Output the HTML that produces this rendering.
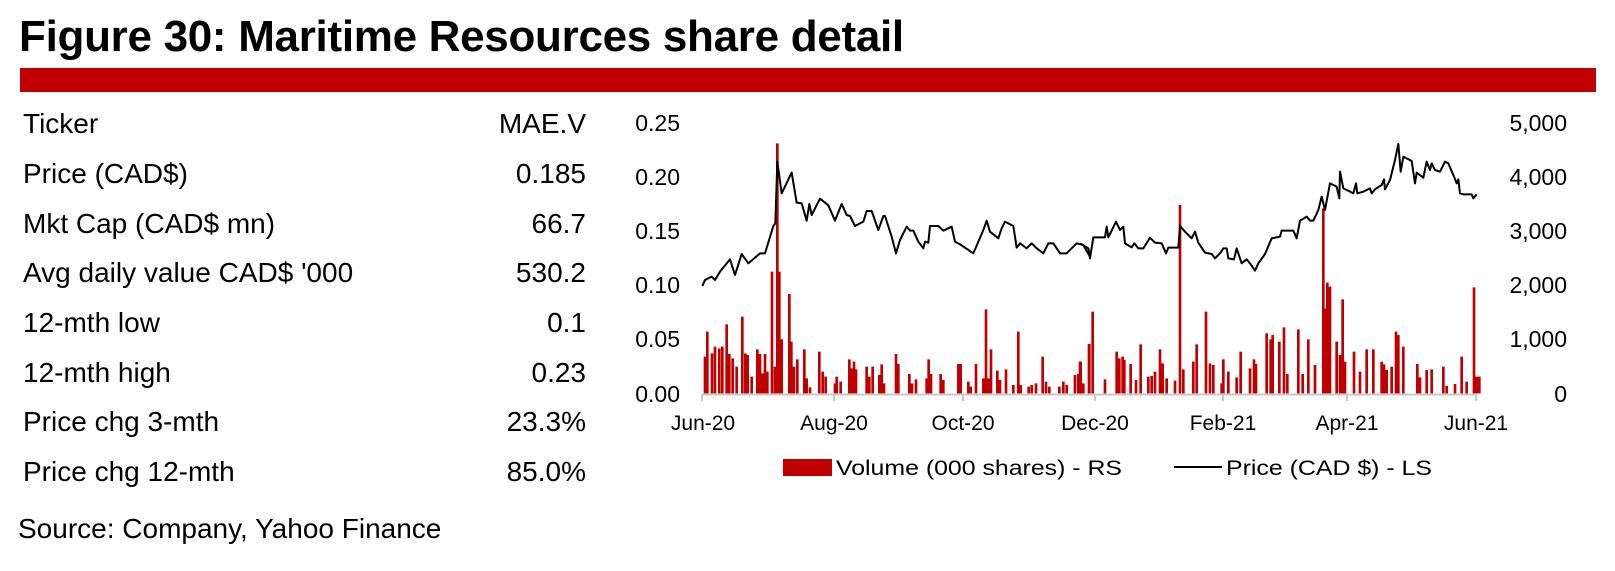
<!DOCTYPE html>
<html><head><meta charset="utf-8"><style>
body{margin:0;background:#fff;width:1615px;height:571px;overflow:hidden;font-family:"Liberation Sans",Arial,sans-serif;position:relative}
.t{position:absolute;left:19px;top:12px;font-size:44px;font-weight:bold;color:#000;letter-spacing:-0.3px}
.bar{position:absolute;left:20px;top:68px;width:1576px;height:24px;background:#c00000}
.row{position:absolute;left:23px;width:563px;font-size:28px;height:34px;line-height:34px}
.row span{position:absolute;right:0;top:0}
.src{position:absolute;left:18px;top:512px;font-size:28px;line-height:34px}
svg{position:absolute;left:0;top:0}
</style></head><body>
<div class="t">Figure 30: Maritime Resources share detail</div>
<div class="bar"></div>
<div class="row" style="top:107px">Ticker<span>MAE.V</span></div>
<div class="row" style="top:157px">Price (CAD$)<span>0.185</span></div>
<div class="row" style="top:207px">Mkt Cap (CAD$ mn)<span>66.7</span></div>
<div class="row" style="top:256px">Avg daily value CAD$ '000<span>530.2</span></div>
<div class="row" style="top:306px">12-mth low<span>0.1</span></div>
<div class="row" style="top:356px">12-mth high<span>0.23</span></div>
<div class="row" style="top:405px">Price chg 3-mth<span>23.3%</span></div>
<div class="row" style="top:455px">Price chg 12-mth<span>85.0%</span></div>
<div class="src">Source: Company, Yahoo Finance</div>
<svg width="1615" height="571" viewBox="0 0 1615 571" font-family="Liberation Sans, Arial, sans-serif">
<g font-size="23" fill="#000" text-anchor="end">
<text x="680" y="131">0.25</text><text x="680" y="185">0.20</text><text x="680" y="239">0.15</text><text x="680" y="293">0.10</text><text x="680" y="347">0.05</text><text x="680" y="402">0.00</text>
<text x="1567" y="131">5,000</text><text x="1567" y="185">4,000</text><text x="1567" y="239">3,000</text><text x="1567" y="293">2,000</text><text x="1567" y="347">1,000</text><text x="1567" y="402">0</text>
</g>
<g font-size="21" fill="#000" text-anchor="middle">
<text x="703" y="430">Jun-20</text><text x="834" y="430">Aug-20</text><text x="963" y="430">Oct-20</text><text x="1095" y="430">Dec-20</text><text x="1223" y="430">Feb-21</text><text x="1347" y="430">Apr-21</text><text x="1476" y="430">Jun-21</text>
</g>
<g transform="translate(590,100) scale(0.33333)" stroke="#c00000" stroke-width="8" fill="none">
<path d="M345 880V770M352 880V695M366 880V760M375 880V740M388 880V745M397 880V740M410 880V673M418 880V762M428 880V775M440 880V800M457 880V650M466 880V760M473 880V765M485 880V830M502 880V748M510 880V762M518 880V820M525 880V762M532 880V815M546 880V515M555 880V800M562 880V130M568 880V515M575 880V718M598 880V582M604 880V725M612 880V800M622 880V778M643 880V748M650 880V835M660 880V862M688 880V755M698 880V815M707 880V830M735 880V850M740 880V830M752 880V845M778 880V778M785 880V805M792 880V785M798 880V808M830 880V800M838 880V830M848 880V800M868 880V825M875 880V793M882 880V850M918 880V762M925 880V792M958 880V822M966 880V850M978 880V838M1010 880V835M1016 880V778M1023 880V822M1052 880V822M1060 880V840M1105 880V792M1112 880V792M1135 880V845M1142 880V860M1158 880V792M1180 880V835M1188 880V628M1195 880V835M1203 880V748M1222 880V812M1230 880V840M1248 880V808M1270 880V855M1285 880V695M1292 880V855M1316 880V860M1325 880V855M1338 880V850M1358 880V770M1368 880V845M1378 880V860M1408 880V860M1420 880V845M1430 880V855M1455 880V825M1465 880V822M1470 880V785M1480 880V850M1497 880V733"/>
</g>
<g transform="translate(1080,100) scale(0.33333)" stroke="#c00000" stroke-width="8" fill="none">
<path d="M2 880V785M28 880V732M38 880V635M75 880V838M110 880V755M118 880V775M128 880V770M133 880V780M152 880V792M168 880V840M182 880V733M205 880V830M215 880V828M225 880V815M240 880V748M248 880V790M260 880V835M285 880V842M300 880V315M310 880V808M340 880V785M350 880V733M378 880V635M390 880V790M400 880V795M425 880V850M430 880V778M445 880V815M470 880V832M482 880V755M510 880V805M522 880V778M528 880V792M560 880V700M572 880V718M578 880V705M598 880V725M612 880V682M622 880V822M655 880V688M668 880V822M685 880V718M705 880V795M730 880V325M735 880V625M742 880V548M750 880V560M770 880V725M780 880V765M788 880V598M795 880V785M822 880V755M840 880V815M860 880V748M880 880V748M905 880V785M912 880V793M920 880V810M935 880V800M948 880V695M955 880V705M970 880V740M1012 880V792M1020 880V832M1040 880V810M1055 880V808M1090 880V800M1100 880V858M1125 880V852M1145 880V770M1160 880V845M1182 880V562M1190 880V830M1198 880V830"/>
</g>
<line x1="702" y1="394.5" x2="1477" y2="394.5" stroke="#c8c8c8" stroke-width="2"/>
<g stroke="#c8c8c8" stroke-width="2"><line x1="702" y1="394" x2="702" y2="401"/><line x1="834" y1="394" x2="834" y2="401"/><line x1="963" y1="394" x2="963" y2="401"/><line x1="1095" y1="394" x2="1095" y2="401"/><line x1="1223" y1="394" x2="1223" y2="401"/><line x1="1347" y1="394" x2="1347" y2="401"/><line x1="1476" y1="394" x2="1476" y2="401"/></g>
<g transform="translate(590,100) scale(0.33333)" stroke="#000" stroke-width="6" fill="none" stroke-linejoin="round">
<polyline points="337,558 345,540 365,530 375,540 390,515 420,478 435,525 455,462 475,490 510,460 525,460 550,378 556,370 562,185 575,280 605,218 620,308 635,310 650,362 658,312 665,345 690,296 715,316 735,362 755,312 770,345 780,348 795,378 820,365 830,333 845,333 865,390 880,348 885,348 905,410 918,460 930,420 950,380 960,392 970,392 985,425 1000,445 1005,425 1015,428 1020,378 1045,378 1060,392 1085,380 1095,425 1110,433 1150,460 1180,390 1190,362 1200,395 1225,415 1235,385 1245,365 1270,378 1280,443 1290,430 1310,445 1325,430 1340,445 1360,460 1375,430 1390,430 1410,460 1430,460 1460,430 1480,435 1500,470"/>
</g>
<g transform="translate(1080,100) scale(0.33333)" stroke="#000" stroke-width="6" fill="none" stroke-linejoin="round">
<polyline points="0,430 25,445 30,475 40,412 75,412 80,380 85,412 108,365 120,390 130,380 135,430 155,442 163,430 175,445 190,445 210,413 225,428 245,430 258,460 265,443 295,443 300,378 315,395 335,415 345,395 355,428 375,458 395,462 405,475 420,460 430,445 440,445 445,475 462,478 470,445 485,490 500,478 510,490 525,512 535,490 555,462 575,415 600,410 605,392 640,392 650,415 660,362 680,350 690,362 700,362 715,330 725,290 735,330 750,250 770,260 778,295 780,215 790,265 810,275 820,280 828,250 832,280 850,275 870,265 875,280 885,268 905,255 912,238 915,268 930,240 945,180 955,132 962,215 970,170 995,183 1005,250 1010,218 1030,233 1040,185 1050,210 1055,190 1065,210 1080,215 1095,185 1105,190 1120,225 1130,250 1135,238 1140,280 1150,283 1175,283 1180,295 1190,283"/>
</g>
<rect x="783" y="459" width="49" height="17" fill="#c00000"/>
<text x="836" y="475" font-size="21" fill="#000" textLength="286" lengthAdjust="spacingAndGlyphs">Volume (000 shares) - RS</text>
<line x1="1174" y1="467" x2="1222" y2="467" stroke="#000" stroke-width="2"/>
<text x="1226" y="475" font-size="21" fill="#000" textLength="206" lengthAdjust="spacingAndGlyphs">Price (CAD $) - LS</text>
</svg>
</body></html>
